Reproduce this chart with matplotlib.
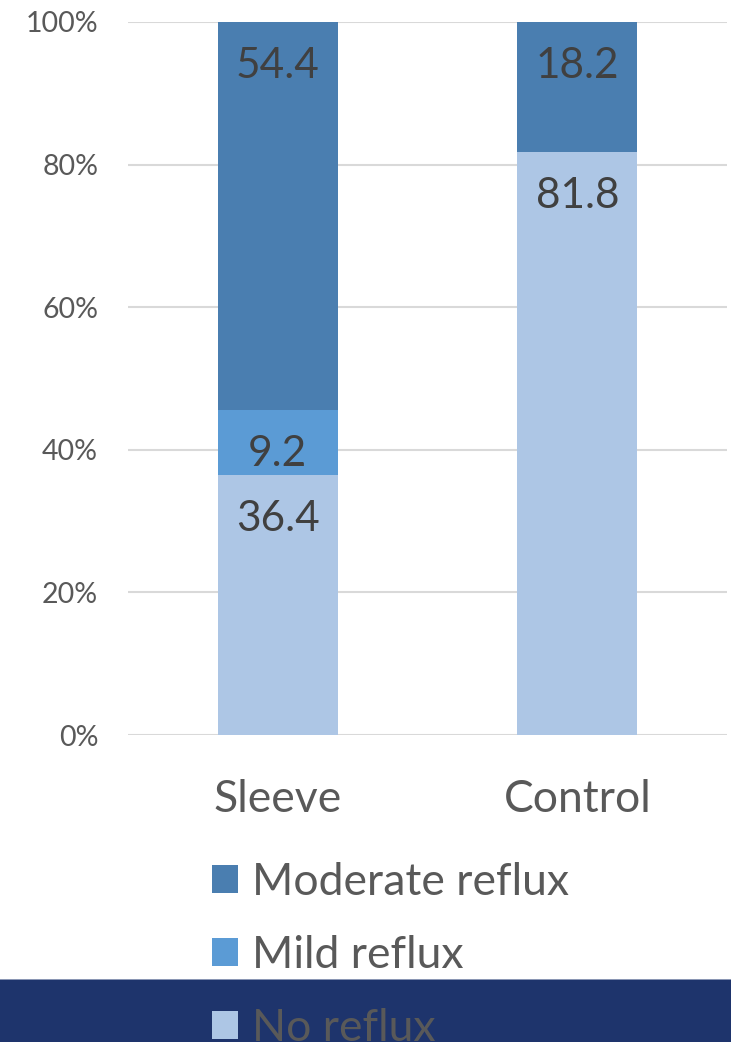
import matplotlib
matplotlib.use("Agg")
import matplotlib.pyplot as plt
from matplotlib.patches import Patch, Rectangle
import numpy as np

plt.rcParams['font.family'] = ['Lato', 'DejaVu Sans']

groups = ["Sleeve", "Control"]
series_names = ["No reflux", "Mild reflux", "Moderate reflux"]
no_reflux = [36.4, 81.8]
mild_reflux = [9.2, 0.0]
moderate_reflux = [54.4, 18.2]
y_ticks = [0, 20, 40, 60, 80, 100]
y_tick_labels = ["0%", "20%", "40%", "60%", "80%", "100%"]

colors = {"No reflux": "#ADC6E5", "Mild reflux": "#5B9BD5", "Moderate reflux": "#4A7EB0"}
text_dark = "#404040"
text_gray = "#595959"

fig = plt.figure(figsize=(7.31, 10.42), dpi=100)
ax = fig.add_axes([128 / 731, 1 - 735 / 1042, (727 - 128) / 731, (735 - 22) / 1042])

x = np.arange(len(groups))
width = 0.4
bottom = np.zeros(len(groups))
handles = {}
for name, vals in zip(series_names, [no_reflux, mild_reflux, moderate_reflux]):
    vals = np.array(vals)
    ax.bar(x, vals, width, bottom=bottom, color=colors[name], zorder=2, linewidth=0)
    for xi, b, v in zip(x, bottom, vals):
        if v > 0:
            ax.annotate(f"{v:.1f}", xy=(xi, b + v), xytext=(0, -44), textcoords="offset pixels",
                        ha="center", va="center", fontsize=30.5, color=text_dark, zorder=3)
    handles[name] = Patch(facecolor=colors[name], edgecolor="none")
    bottom = bottom + vals

ax.set_xlim(-0.5, 1.5)
ax.set_ylim(0, 100)
ax.set_yticks(y_ticks)
ax.set_yticklabels(y_tick_labels, fontsize=20.5, color=text_gray)
ax.set_xticks(x)
ax.set_xticklabels(groups, fontsize=32, color=text_gray)
ax.tick_params(axis="both", length=0)
ax.tick_params(axis="y", pad=21.5)
ax.tick_params(axis="x", pad=32)
ax.yaxis.grid(True, color="#D9D9D9", linewidth=1.5, zorder=0)
ax.set_axisbelow(True)
for s in ax.spines.values():
    s.set_visible(False)

# dark footer band
fig.patches.append(Rectangle((0, 0), 1, 62 / 1042, transform=fig.transFigure,
                             facecolor="#1E346C", edgecolor="none", zorder=0))
fig.patches.append(Rectangle((0, 62 / 1042), 1, 1.5 / 1042, transform=fig.transFigure,
                             facecolor="#8A96B4", edgecolor="none", zorder=0))

order = ["Moderate reflux", "Mild reflux", "No reflux"]
leg = fig.legend([handles[n] for n in order], order, loc="upper left",
                 bbox_to_anchor=(212 / 731, 1 - 862 / 1042), frameon=False,
                 fontsize=32, labelcolor=text_gray, handlelength=0.58, handleheight=0.58,
                 handletextpad=0.33, labelspacing=0.72, borderpad=0, borderaxespad=0)

fig.savefig("out.png", dpi=100)
